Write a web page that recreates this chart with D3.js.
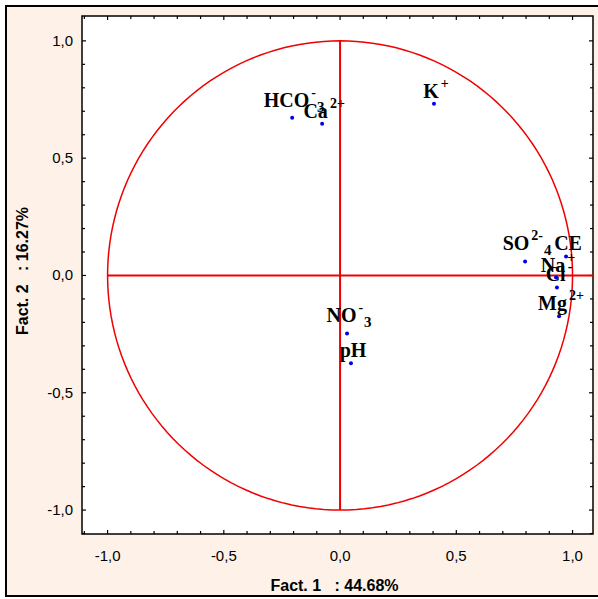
<!DOCTYPE html>
<html><head><meta charset="utf-8">
<script src="https://cdn.jsdelivr.net/npm/d3@7"></script>
<style>
body{margin:0;padding:0;background:#fff;}
svg{display:block;}
</style></head>
<body>
<script>
// ---- data ----
const names = ["HCO", "Ca", "K", "SO", "CE", "Na", "Cl", "Mg", "NO", "pH"];
const sups  = ["-", "2+", "+", "2-", "", "+", "-", "2+", "-", ""];
const subs  = ["3", "", "", "4", "", "", "", "", "3", ""];
const fact1 = [-0.206, -0.077, 0.404, 0.796, 0.972, 0.929, 0.933, 0.942, 0.030, 0.047];
const fact2 = [0.672, 0.647, 0.732, 0.060, 0.081, -0.009, -0.051, -0.174, -0.247, -0.374];
const tickValues = [-1.0, -0.5, 0.0, 0.5, 1.0];
const tickLabels = ["-1,0", "-0,5", "0,0", "0,5", "1,0"];
const xTitle = "Fact. 1   : 44.68%";
const yTitle = "Fact. 2   : 16.27%";

const W = 598, H = 599;
const svg = d3.select("body").append("svg").attr("width", W).attr("height", H);

// outer frame
svg.append("rect").attr("x", 0).attr("y", 0).attr("width", W).attr("height", H).attr("fill", "#fff");
svg.append("rect").attr("x", 6).attr("y", 6).attr("width", W + 10).attr("height", 590)
  .attr("fill", "#FDF1E8").attr("stroke", "#000").attr("stroke-width", 2);

const pl = 82, pt = 16, pr = 593, pb = 534;
const x = d3.scaleLinear().domain([-1.11, 1.088]).range([pl, pr]);
const y = d3.scaleLinear().domain([-1.102, 1.106]).range([pb, pt]);

svg.append("rect").attr("x", pl).attr("y", pt).attr("width", pr - pl).attr("height", pb - pt)
  .attr("fill", "#fff").attr("stroke", "#000").attr("stroke-width", 1.5);

// ticks (inward, on all four sides)
const minor = d3.range(-11, 11).map(i => i / 10).filter(v => v >= -1.1 && v <= 1.08);
const isMajor = v => Math.abs(v * 2 - Math.round(v * 2)) < 1e-6;
const tg = svg.append("g").attr("stroke", "#000").attr("stroke-width", 1.2);
minor.forEach(v => {
  const len = isMajor(v) ? 4 : 3;
  tg.append("line").attr("x1", x(v)).attr("x2", x(v)).attr("y1", pb).attr("y2", pb - len);
  tg.append("line").attr("x1", x(v)).attr("x2", x(v)).attr("y1", pt).attr("y2", pt + len);
  tg.append("line").attr("y1", y(v)).attr("y2", y(v)).attr("x1", pl).attr("x2", pl + len);
  tg.append("line").attr("y1", y(v)).attr("y2", y(v)).attr("x1", pr).attr("x2", pr - len);
});

// tick labels
const lab = svg.append("g").attr("font-family", "Arial, 'Liberation Sans', sans-serif")
  .attr("font-size", 15).attr("fill", "#000");
tickValues.forEach((v, i) => {
  lab.append("text").attr("x", x(v)).attr("y", pb + 27).attr("text-anchor", "middle").text(tickLabels[i]);
  lab.append("text").attr("x", pl - 9).attr("y", y(v) + 5).attr("text-anchor", "end").text(tickLabels[i]);
});

// axis titles
svg.append("text").attr("x", (pl + pr) / 2 - 3).attr("y", 591).attr("text-anchor", "middle")
  .attr("font-family", "Arial, 'Liberation Sans', sans-serif").attr("font-weight", "bold")
  .attr("font-size", 16).style("white-space", "pre").text(xTitle);
svg.append("text").attr("transform", `translate(28,${(pt + pb) / 2 - 4}) rotate(-90)`).attr("text-anchor", "middle")
  .attr("font-family", "Arial, 'Liberation Sans', sans-serif").attr("font-weight", "bold")
  .attr("font-size", 16).style("white-space", "pre").text(yTitle);

// unit circle and axes lines
const red = "#F00000";
const circ = d3.range(0, 361, 2).map(a => [Math.cos(a * Math.PI / 180), Math.sin(a * Math.PI / 180)]);
svg.append("path").attr("d", d3.line().x(d => x(d[0])).y(d => y(d[1]))(circ))
  .attr("fill", "none").attr("stroke", red).attr("stroke-width", 1.5);
svg.append("line").attr("x1", x(-1)).attr("x2", pr).attr("y1", y(0)).attr("y2", y(0))
  .attr("stroke", red).attr("stroke-width", 2);
svg.append("line").attr("x1", x(0)).attr("x2", x(0)).attr("y1", y(1)).attr("y2", y(-1))
  .attr("stroke", red).attr("stroke-width", 2);

// points
svg.append("g").selectAll("circle").data(names).join("circle")
  .attr("cx", (d, i) => x(fact1[i])).attr("cy", (d, i) => y(fact2[i])).attr("r", 2)
  .attr("fill", "#0000EE");

// labels
const lg = svg.append("g").attr("font-family", "'Times New Roman', 'Liberation Serif', serif")
  .attr("font-weight", "bold").attr("font-size", 20).attr("fill", "#000");
names.forEach((n, i) => {
  const t = lg.append("text").attr("x", x(fact1[i]) + 2).attr("y", y(fact2[i]) - (subs[i] ? 11 : 6))
    .attr("text-anchor", "middle");
  t.append("tspan").text(n);
  if (sups[i]) t.append("tspan").attr("font-size", 14).attr("dy", -10).attr("dx", 2).text(sups[i]);
  if (subs[i]) t.append("tspan").attr("font-size", 15).attr("dy", sups[i] ? 15 : 5).attr("dx", 1).text(subs[i]);
});
</script>
</body></html>
